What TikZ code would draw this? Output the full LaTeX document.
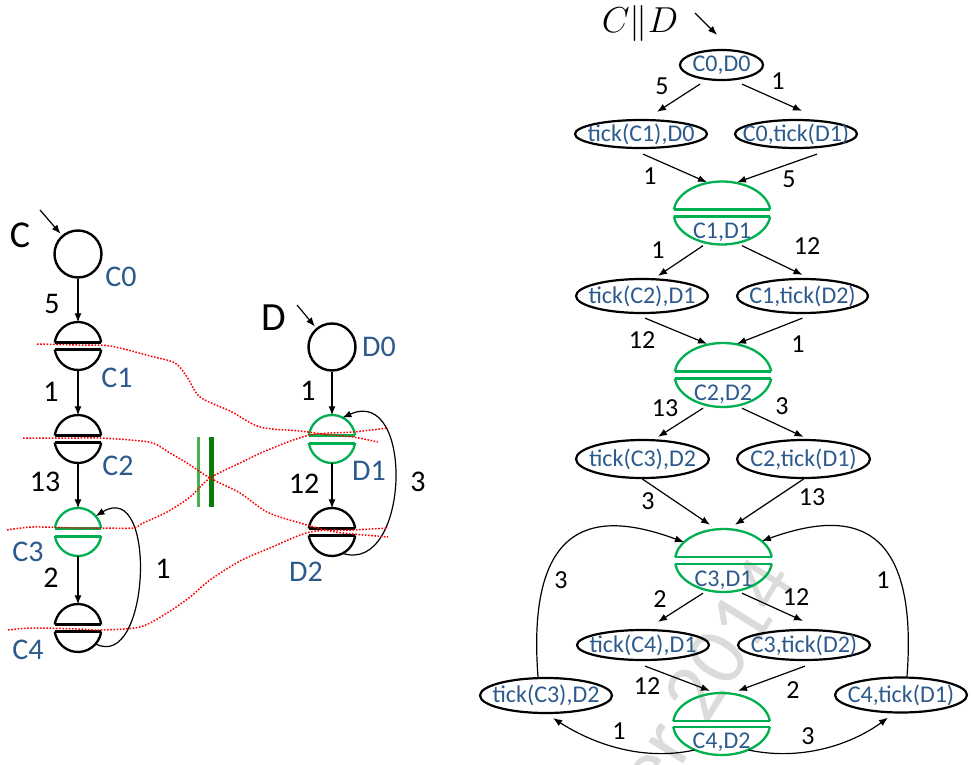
\documentclass[tikz,border=0pt]{standalone}
\usepackage{fontspec}
\setmainfont{Carlito}
\usetikzlibrary{arrows.meta,shapes.geometric,calc}
\definecolor{stblue}{HTML}{2C5A8C}
\definecolor{stgreen}{HTML}{00B050}
\definecolor{barlight}{HTML}{4DAF4D}
\definecolor{bardark}{HTML}{0A7A0A}

% two halves of a split state: #1 node, #2 colour, #3 x radius, #4 y radius,
% #5 half of the gap between the halves, #6 width of the flat edges
\newcommand\halves[6]{%
  \pgfmathsetmacro\hvang{asin(#5/#4)}%
  \pgfmathsetmacro\hvx{#3*cos(\hvang)}%
  \draw[#2, line width=2.3pt] ([xshift=\hvx pt, yshift=#5pt]#1.center)
    arc[start angle=\hvang, end angle=180-\hvang, x radius=#3pt, y radius=#4pt];
  \draw[#2, line width=2.3pt] ([xshift=\hvx pt, yshift=-#5pt]#1.center)
    arc[start angle=-\hvang, end angle=\hvang-180, x radius=#3pt, y radius=#4pt];
  \draw[#2, line width=#6pt] ([xshift=-\hvx pt, yshift=#5pt]#1.center) -- ([xshift=\hvx pt, yshift=#5pt]#1.center);
  \draw[#2, line width=#6pt] ([xshift=-\hvx pt, yshift=-#5pt]#1.center) -- ([xshift=\hvx pt, yshift=-#5pt]#1.center);
}

\begin{document}
\begin{tikzpicture}[x=1pt, y=-1pt,
  arr/.style={-{Latex[length=9pt,width=7pt]}, line width=1.2pt},
  bigst/.style={circle, minimum size=47pt, inner sep=0pt},
  ring/.style={bigst, draw, line width=2.4pt},
  st/.style={ellipse, draw, line width=2.2pt, inner sep=0pt},
  split/.style={ellipse, inner sep=0pt, minimum width=97pt},
  lbl/.style={text=stblue, inner sep=0pt, font=\fontsize{30}{32}\selectfont},
  slbl/.style={text=stblue, inner sep=0pt, font=\fontsize{24}{26}\selectfont},
  num/.style={inner sep=0pt, font=\fontsize{30}{32}\selectfont},
  snum/.style={inner sep=0pt, font=\fontsize{26}{28}\selectfont},
  sync/.style={red, line width=1.5pt, dash pattern=on 1.6pt off 1.6pt},
]
\useasboundingbox (0,0) rectangle (972,765);

% faint date stamp in the background
\node[rotate=58, text=black!14, inner sep=0pt, font=\fontsize{85}{87}\selectfont] (stamp) at (705,678) {er 2014};

% ---------------- automaton C ----------------
\node[inner sep=0pt, font=\fontsize{38}{40}\selectfont] (Cname) at (20,235) {C};
\coordinate (Cin) at (40,210);
\node[ring] (C0) at (78,254) {};
\node[bigst] (C1) at (78,346) {};
\node[bigst] (C2) at (78,439) {};
\node[bigst] (C3) at (78,532) {};
\node[bigst] (C4) at (78,628) {};
\halves{C1}{black}{23.5}{24}{3.5}{3.8}
\halves{C2}{black}{23.5}{24}{3.5}{3.8}
\halves{C3}{stgreen}{23.5}{24}{4}{3}
\halves{C4}{black}{23.5}{24}{3.5}{3.8}
\node[lbl] (C0l) at (121,277) {C0};
\node[lbl] (C1l) at (117,378) {C1};
\node[lbl] (C2l) at (118,466) {C2};
\node[lbl] (C3l) at (28,552) {C3};
\node[lbl] (C4l) at (28,650) {C4};
\draw[arr, shorten >=2pt] (Cin) -- (C0);
\draw[arr] (C0) -- (C1);
\draw[arr] (C1) -- (C2);
\draw[arr] (C2) -- (C3);
\draw[arr] (C3) -- (C4);
\draw[arr] (C4.-42) .. controls (150,672) and (158,478) .. (C3.42);
\node[num] (cw1) at (52,304) {5};
\node[num] (cw2) at (51,392) {1};
\node[num] (cw3) at (45,482) {13};
\node[num] (cw4) at (51,578) {2};
\node[num] (cw5) at (163,569) {1};

% ---------------- automaton D ----------------
\node[inner sep=0pt, font=\fontsize{40}{42}\selectfont] (Dname) at (273.5,317.5) {D};
\coordinate (Din) at (297,305);
\node[ring] (D0) at (332,347) {};
\node[bigst] (D1) at (332,439) {};
\node[bigst] (D2) at (332,532) {};
\halves{D1}{stgreen}{23.5}{24}{4}{3}
\halves{D2}{black}{23.5}{24}{3.5}{3.8}
\node[lbl] (D0l) at (379,347) {D0};
\node[lbl] (D1l) at (369,471) {D1};
\node[lbl] (D2l) at (306,572) {D2};
\draw[arr, shorten >=2pt] (Din) -- (D0);
\draw[arr] (D0) -- (D1);
\draw[arr] (D1) -- (D2);
\draw[arr] (D2.-64) .. controls (410,575) and (415,385) .. (D1.64);
\node[num] (dw1) at (308,391) {1};
\node[num] (dw2) at (304,484) {12};
\node[num] (dw3) at (418,482) {3};

% parallel composition sign
\draw[barlight, line width=3pt] (198,437) -- (198,507);
\draw[bardark, line width=5pt] (211,437) -- (211,507);

% synchronisation curves between the two automata
\draw[sync] plot[smooth, tension=0.5] coordinates {(37,344) (78,345) (110,346) (150,356) (175,363) (187,377) (200,397) (230,411) (260,427) (300,431) (330,435) (353,437) (378,442)};
\draw[sync] plot[smooth, tension=0.5] coordinates {(23,438) (78,438) (100,438) (130,440) (153,443) (170,453) (187,463) (210,478) (240,493) (267,512) (300,523) (330,531) (353,534) (388,537)};
\draw[sync] plot[smooth, tension=0.5] coordinates {(7,530) (33,527) (78,528) (100,528) (133,528) (143,523) (167,512) (190,497) (210,478) (240,463) (270,449) (310,435) (353,432) (388,428)};
\draw[sync] plot[smooth, tension=0.5] coordinates {(8,630) (33,628) (78,629) (100,630) (140,627) (167,613) (190,597) (210,580) (240,561) (270,548) (310,532) (353,530) (388,528)};

% ---------------- product C || D ----------------
\node[inner sep=0pt, scale=1.45, font=\fontsize{24.88}{27}\selectfont] (CDname) at (640,23) {$C\|D$};
\coordinate (CDin) at (695,13);
\node[st, minimum width=83pt, minimum height=30pt, label={[slbl]center:{C0,D0}}] (a0) at (721.5,65) {};
\node[st, minimum width=132pt, minimum height=28pt, label={[slbl]center:{tick(C1),D0}}] (a1) at (641,134) {};
\node[st, minimum width=122pt, minimum height=28pt, label={[slbl]center:{C0,tick(D1)}}] (a2) at (796,134) {};
\node[split, minimum height=63pt] (b1) at (722,213) {};
\node[st, minimum width=132pt, minimum height=34pt, label={[slbl]center:{tick(C2),D1}}] (a3) at (642,296) {};
\node[st, minimum width=131pt, minimum height=34pt, label={[slbl]center:{C1,tick(D2)}}] (a4) at (802.5,296) {};
\node[split, minimum height=64pt] (b2) at (723,375) {};
\node[st, minimum width=133pt, minimum height=38pt, label={[slbl]center:{tick(C3),D2}}] (a5) at (642.5,459) {};
\node[st, minimum width=133pt, minimum height=38pt, label={[slbl]center:{C2,tick(D1)}}] (a6) at (803.5,459) {};
\node[split, minimum height=63pt] (b3) at (723.5,560.5) {};
\node[st, minimum width=132pt, minimum height=30pt, label={[slbl]center:{tick(C4),D1}}] (a7) at (643,645) {};
\node[st, minimum width=132pt, minimum height=30pt, label={[slbl]center:{C3,tick(D2)}}] (a8) at (804,645) {};
\node[split, minimum height=62pt] (b4) at (721.5,724) {};
\node[st, minimum width=132pt, minimum height=35pt, label={[slbl]center:{tick(C3),D2}}] (d1) at (546,695.5) {};
\node[st, minimum width=132pt, minimum height=35pt, label={[slbl]center:{C4,tick(D1)}}] (d2) at (901,695) {};

\halves{b1}{stgreen}{48.5}{31.5}{3.5}{2.3}
\halves{b2}{stgreen}{48.5}{32}{3.5}{2.3}
\halves{b3}{stgreen}{48.5}{31.5}{3.5}{2.3}
\halves{b4}{stgreen}{48.5}{31}{3}{2.3}
\node[slbl] (b1t) at ([yshift=-19.5pt]b1.center) {C1,D1};
\node[slbl] (b2t) at ([yshift=-19.5pt]b2.center) {C2,D2};
\node[slbl] (b3t) at ([yshift=-20pt]b3.center) {C3,D1};
\node[slbl] (b4t) at ([yshift=-18.5pt]b4.center) {C4,D2};

\draw[arr] (CDin) -- ([xshift=-4.5pt,yshift=14pt]a0.north);
\draw[arr] ([xshift=-21.5pt,yshift=-3pt]a0.south) -- ([xshift=16pt,yshift=7pt]a1.north);
\draw[arr] ([xshift=20.5pt,yshift=-3pt]a0.south) -- ([xshift=6pt,yshift=8pt]a2.north);
\draw[arr] ([xshift=2pt,yshift=-5pt]a1.south) -- ([xshift=-15pt,yshift=-1pt]b1.north);
\draw[arr] ([xshift=21pt,yshift=-5pt]a2.south) -- ([xshift=15pt,yshift=-1pt]b1.north);
\draw[arr] ([xshift=-19pt,yshift=-1pt]b1.south) -- ([xshift=16pt,yshift=2pt]a3.north);
\draw[arr] ([xshift=20pt,yshift=-1pt]b1.south) -- ([xshift=0pt,yshift=3pt]a4.north);
\draw[arr] ([xshift=3pt,yshift=-4pt]a3.south) -- ([xshift=-16pt,yshift=-1pt]b2.north);
\draw[arr] ([xshift=0pt,yshift=-4pt]a4.south) -- ([xshift=14pt,yshift=-1pt]b2.north);
\draw[arr] ([xshift=-20pt,yshift=-1pt]b2.south) -- ([xshift=15.5pt,yshift=2pt]a5.north);
\draw[arr] ([xshift=19pt,yshift=-1pt]b2.south) -- ([xshift=0pt,yshift=2pt]a6.north);
\draw[arr] (a5.south) -- ([xshift=-13.5pt,yshift=4pt]b3.north);
\draw[arr] (a6.south) -- ([xshift=11.5pt,yshift=4pt]b3.north);
\draw[arr] ([xshift=-20.5pt,yshift=-1pt]b3.south) -- ([xshift=15pt,yshift=7pt]a7.north);
\draw[arr] ([xshift=18.5pt,yshift=-1pt]b3.south) -- ([xshift=-1pt,yshift=8pt]a8.north);
\draw[arr] ([xshift=2pt,yshift=-5pt]a7.south) -- ([xshift=-11.5pt,yshift=2pt]b4.north);
\draw[arr] ([xshift=1pt,yshift=-5pt]a8.south) -- ([xshift=16.5pt,yshift=2pt]b4.north);
\draw[arr] ([xshift=-8pt]d1.north) .. controls (525,505) and (610,515) .. (b3.155);
\draw[arr] ([xshift=6pt]d2.north) .. controls (920,505) and (835,515) .. (b3.27);
\draw[arr] (b4.-136) .. controls (640,762) and (590,742) .. ([xshift=7pt,yshift=-4pt]d1.south);
\draw[arr] (b4.-44) .. controls (805,762) and (855,742) .. ([xshift=-13pt,yshift=-4pt]d2.south);

\node[snum] (w1) at (662,86) {5};
\node[snum] (w2) at (778,81) {1};
\node[snum] (w3) at (650,176) {1};
\node[snum] (w4) at (789,179) {5};
\node[snum] (w5) at (658,250) {1};
\node[snum] (w6) at (807,246) {12};
\node[snum] (w7) at (642,340) {12};
\node[snum] (w8) at (798,344) {1};
\node[snum] (w9) at (665,408) {13};
\node[snum] (w10) at (782,406) {3};
\node[snum] (w11) at (648,501) {3};
\node[snum] (w12) at (812,497) {13};
\node[snum] (w13) at (561,580) {3};
\node[snum] (w14) at (883,580) {1};
\node[snum] (w15) at (660,599) {2};
\node[snum] (w16) at (796,597) {12};
\node[snum] (w17) at (647,686) {12};
\node[snum] (w18) at (793,690) {2};
\node[snum] (w19) at (619,731) {1};
\node[snum] (w20) at (808,736) {3};
\end{tikzpicture}
\end{document}
